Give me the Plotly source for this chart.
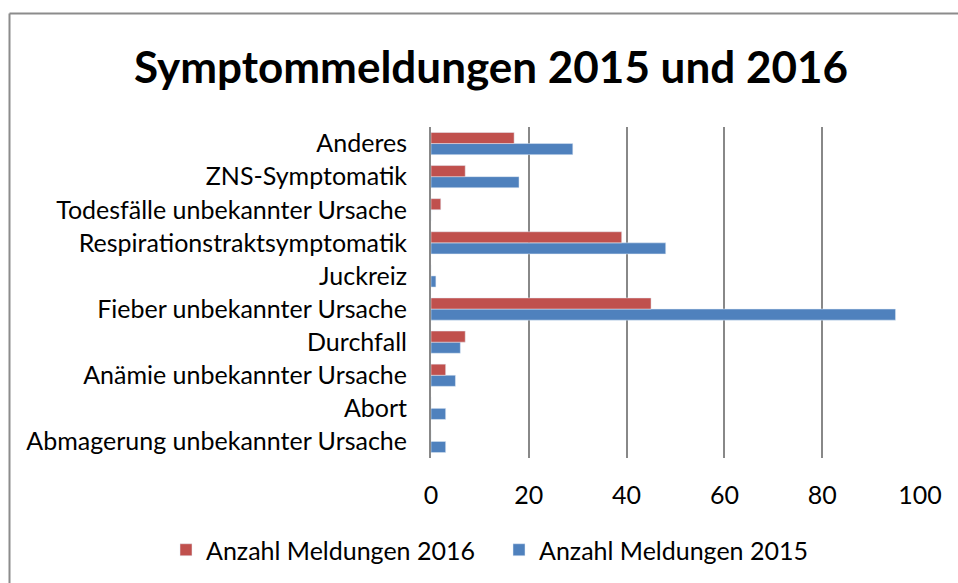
import plotly.graph_objects as go

categories = [
    "Abmagerung unbekannter Ursache",
    "Abort",
    "Anämie unbekannter Ursache",
    "Durchfall",
    "Fieber unbekannter Ursache",
    "Juckreiz",
    "Respirationstraktsymptomatik",
    "Todesfälle unbekannter Ursache",
    "ZNS-Symptomatik",
    "Anderes",
]
meldungen_2015 = [3, 3, 5, 6, 95, 1, 48, 0, 18, 29]
meldungen_2016 = [0, 0, 3, 7, 45, 0, 39, 2, 7, 17]
x_ticks = [0, 20, 40, 60, 80, 100]

FONT = "Lato"
FS = 25
W, H = 958, 583
PL, PR, PT, PB = 431, 920, 127, 458  # plot area in window pixels
L, T = PL, PT
R, B = W - PR, H - PB
pw, ph = W - L - R, H - T - B

def px_x(p):
    return (p - L) / pw

def px_y(p):
    return (H - B - p) / ph

fig = go.Figure()
fig.add_trace(go.Bar(y=categories, x=meldungen_2015, orientation="h",
                     name="Anzahl Meldungen 2015", marker_color="#4F81BD",
                     legend="legend2"))
fig.add_trace(go.Bar(y=categories, x=meldungen_2016, orientation="h",
                     name="Anzahl Meldungen 2016", marker_color="#C0504D",
                     legend="legend"))

fig.update_layout(
    width=W, height=H,
    margin=dict(l=L, r=R, t=T, b=B, autoexpand=False),
    paper_bgcolor="white", plot_bgcolor="white",
    barmode="group", bargap=0.33, bargroupgap=0,
    font=dict(family=FONT, size=FS, color="black"),
    title=dict(text="<b>Symptommeldungen 2015 und 2016</b>",
               font=dict(family=FONT, size=44, color="black"),
               x=491 / W, xanchor="center",
               y=1 - 68 / H, yanchor="middle",
               xref="container", yref="container"),
    legend=dict(orientation="h", x=px_x(166), xanchor="left",
                y=px_y(550), yanchor="middle",
                font=dict(family=FONT, size=FS), itemwidth=30),
    legend2=dict(orientation="h", x=px_x(499), xanchor="left",
                 y=px_y(550), yanchor="middle",
                 font=dict(family=FONT, size=FS), itemwidth=30),
    showlegend=True,
)
fig.update_xaxes(range=[0, 100], tickvals=x_ticks, showgrid=True,
                 gridcolor="#888888", gridwidth=2, zeroline=False,
                 showline=False, ticks="", ticklabelstandoff=20,
                 automargin=False, tickfont=dict(family=FONT, size=FS))
fig.update_yaxes(showline=True, linecolor="#888888", linewidth=2,
                 showgrid=False, ticks="", ticklabelstandoff=17,
                 automargin=False, tickfont=dict(family=FONT, size=FS))

# outer chart frame (top and left edges)
fig.add_shape(type="line", xref="paper", yref="paper",
              x0=px_x(9.5), x1=px_x(958), y0=px_y(13.5), y1=px_y(13.5),
              line=dict(color="#8C8C8C", width=2))
fig.add_shape(type="line", xref="paper", yref="paper",
              x0=px_x(9.5), x1=px_x(9.5), y0=px_y(13.5), y1=px_y(583),
              line=dict(color="#8C8C8C", width=2))

fig.write_html("out.html", config={"displayModeBar": False},
               post_script="document.body.style.margin='0px';"
                           "document.body.style.overflow='hidden';")
